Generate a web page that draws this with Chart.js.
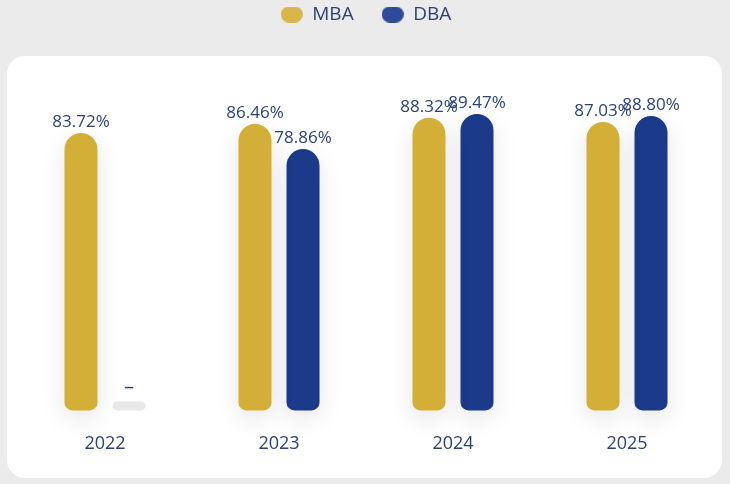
<!DOCTYPE html>
<html>
<head>
<meta charset="utf-8">
<script src="https://cdn.jsdelivr.net/npm/chart.js@4/dist/chart.umd.min.js"></script>
<style>
html,body{margin:0;padding:0;background:#ebebeb;}
#wrap{width:730px;height:484px;position:relative;}
</style>
</head>
<body>
<div id="wrap"><canvas id="c" width="730" height="484"></canvas></div>
<script>
const categories = ['2022', '2023', '2024', '2025'];
const mbaValues = [83.72, 86.46, 88.32, 87.03];
const dbaValues = [null, 78.86, 89.47, 88.80];
const placeholderValues = [2.7, null, null, null];
const seriesNames = ['MBA', 'DBA'];

const GOLD = '#d4af37';
const NAVY = '#1c3a8a';
const TEXT = '#2c4274';
const FONT = '"Open Sans", "Noto Sans", sans-serif';

function pill(color) {
  const c = document.createElement('canvas');
  c.width = 22; c.height = 16;
  const x = c.getContext('2d');
  x.fillStyle = color;
  x.beginPath();
  x.roundRect(0, 0, 22, 16, 8);
  x.fill();
  return c;
}

const cardPlugin = {
  id: 'card',
  beforeDraw(chart) {
    const ctx = chart.ctx;
    ctx.save();
    ctx.fillStyle = '#ebebeb';
    ctx.fillRect(0, 0, chart.width, chart.height);
    ctx.fillStyle = '#ffffff';
    ctx.beginPath();
    ctx.roundRect(7, 56, 715, 422, 18);
    ctx.fill();
    ctx.restore();
  }
};

const legendHeightPlugin = {
  id: 'legendHeight',
  beforeLayout(chart) {
    const lg = chart.legend;
    if (lg && !lg._patched) {
      const orig = lg.fit;
      lg.fit = function () {
        orig.call(this);
        this.height = 79 + 23;
      };
      lg._patched = true;
    }
  }
};

const shadowPlugin = {
  id: 'barShadow',
  beforeDatasetDraw(chart, args) {
    const ctx = chart.ctx;
    ctx.save();
    if (args.index < 2) {
      ctx.shadowColor = 'rgba(0,0,0,0.10)';
      ctx.shadowBlur = 24;
      ctx.shadowOffsetY = 8;
    }
  },
  afterDatasetDraw(chart) {
    chart.ctx.restore();
  }
};

const labelPlugin = {
  id: 'valueLabels',
  afterDatasetsDraw(chart) {
    const ctx = chart.ctx;
    ctx.save();
    ctx.fillStyle = TEXT;
    ctx.textAlign = 'center';
    ctx.textBaseline = 'alphabetic';
    chart.data.datasets.forEach((ds, di) => {
      const meta = chart.getDatasetMeta(di);
      meta.data.forEach((bar, i) => {
        const v = ds.data[i];
        if (v === null || v === undefined) return;
        if (di === 2) {
          ctx.font = '20px ' + FONT;
          ctx.fillText('–', bar.x, bar.y - 8);
        } else {
          ctx.font = '17px ' + FONT;
          ctx.fillText(v.toFixed(2) + '%', bar.x, bar.y - 6);
        }
      });
    });
    ctx.restore();
  }
};

new Chart(document.getElementById('c'), {
  type: 'bar',
  data: {
    labels: categories,
    datasets: [
      {
        label: seriesNames[0], data: mbaValues, backgroundColor: GOLD, stack: 'mba',
        borderRadius: {topLeft: 16.5, topRight: 16.5, bottomLeft: 8, bottomRight: 8},
        borderSkipped: false, clip: false
      },
      {
        label: seriesNames[1], data: dbaValues, backgroundColor: NAVY, stack: 'dba',
        borderRadius: {topLeft: 16.5, topRight: 16.5, bottomLeft: 8, bottomRight: 8},
        borderSkipped: false, clip: false
      },
      {
        label: 'none', data: placeholderValues, backgroundColor: '#e8e8e8', stack: 'dba',
        borderRadius: 5, borderSkipped: false, clip: false
      }
    ]
  },
  options: {
    responsive: false,
    animation: false,
    devicePixelRatio: 1,
    layout: {padding: {left: 18, right: 16, top: -23, bottom: 14}},
    datasets: {bar: {categoryPercentage: 0.552, barPercentage: 0.6875}},
    scales: {
      x: {
        stacked: true,
        grid: {display: false},
        border: {display: false},
        ticks: {color: TEXT, font: {family: FONT, size: 18}, padding: 15}
      },
      y: {
        stacked: true,
        display: false,
        min: 0, max: 100
      }
    },
    plugins: {
      tooltip: {enabled: false},
      legend: {
        position: 'top',
        labels: {
          color: TEXT,
          font: {family: FONT, size: 19},
          usePointStyle: true,
          pointStyleWidth: 22,
          padding: 28,
          boxHeight: 16,
          generateLabels(chart) {
            return [
              {text: seriesNames[0], pointStyle: pill('#d8b649'), fillStyle: GOLD, strokeStyle: GOLD, lineWidth: 0, datasetIndex: 0, fontColor: TEXT},
              {text: seriesNames[1], pointStyle: pill('#2e4a98'), fillStyle: NAVY, strokeStyle: NAVY, lineWidth: 0, datasetIndex: 1, fontColor: TEXT}
            ];
          }
        }
      }
    }
  },
  plugins: [cardPlugin, legendHeightPlugin, shadowPlugin, labelPlugin]
});
</script>
</body>
</html>
